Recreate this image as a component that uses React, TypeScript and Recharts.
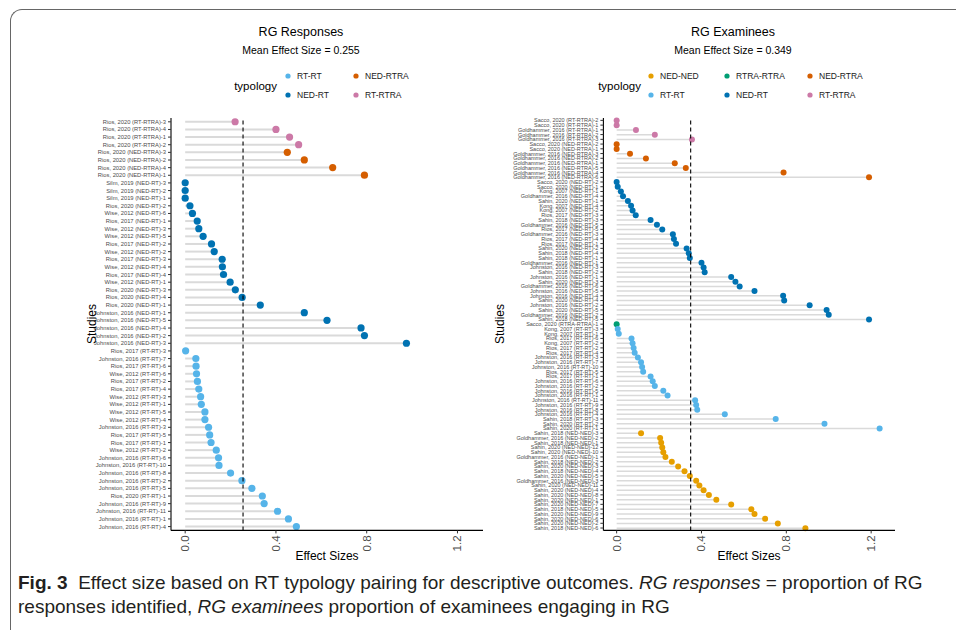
import React from 'react'
import { ComposedChart, Bar, XAxis, YAxis, ReferenceLine } from 'recharts'

const font = "'Liberation Sans', Arial, Helvetica, sans-serif"

const typologyColors: Record<string, string> = {
	'RT-RT': '#56B4E9',
	'NED-RT': '#0072B2',
	'NED-RTRA': '#D55E00',
	'RT-RTRA': '#CC79A7',
	'NED-NED': '#E69F00',
	'RTRA-RTRA': '#009E73',
}

const xTicks = [0, 0.4, 0.8, 1.2]
const xDomain = [-0.0625, 1.3125]

// RG Responses panel
const responseStudies = [
	'Rios, 2020 (RT-RTRA)-3', 'Rios, 2020 (RT-RTRA)-4', 'Rios, 2020 (RT-RTRA)-1', 'Rios, 2020 (RT-RTRA)-2',
	'Rios, 2020 (NED-RTRA)-3', 'Rios, 2020 (NED-RTRA)-2', 'Rios, 2020 (NED-RTRA)-4', 'Rios, 2020 (NED-RTRA)-1',
	'Silm, 2019 (NED-RT)-3', 'Silm, 2019 (NED-RT)-2', 'Silm, 2019 (NED-RT)-1', 'Rios, 2020 (NED-RT)-2',
	'Wise, 2012 (NED-RT)-6', 'Rios, 2017 (NED-RT)-1', 'Wise, 2012 (NED-RT)-3', 'Wise, 2012 (NED-RT)-5',
	'Rios, 2017 (NED-RT)-2', 'Wise, 2012 (NED-RT)-2', 'Rios, 2017 (NED-RT)-3', 'Wise, 2012 (NED-RT)-4',
	'Rios, 2017 (NED-RT)-4', 'Wise, 2012 (NED-RT)-1', 'Rios, 2020 (NED-RT)-3', 'Rios, 2020 (NED-RT)-4',
	'Rios, 2020 (NED-RT)-1', 'Johnston, 2016 (NED-RT)-1', 'Johnston, 2016 (NED-RT)-5', 'Johnston, 2016 (NED-RT)-4',
	'Johnston, 2016 (NED-RT)-2', 'Johnston, 2016 (NED-RT)-3',
	'Rios, 2017 (RT-RT)-3', 'Johnston, 2016 (RT-RT)-7', 'Rios, 2017 (RT-RT)-6', 'Wise, 2012 (RT-RT)-6',
	'Rios, 2017 (RT-RT)-2', 'Rios, 2017 (RT-RT)-4', 'Wise, 2012 (RT-RT)-3', 'Wise, 2012 (RT-RT)-1',
	'Wise, 2012 (RT-RT)-5', 'Wise, 2012 (RT-RT)-4', 'Johnston, 2016 (RT-RT)-3', 'Rios, 2017 (RT-RT)-5',
	'Rios, 2017 (RT-RT)-1', 'Wise, 2012 (RT-RT)-2', 'Johnston, 2016 (RT-RT)-6', 'Johnston, 2016 (RT-RT)-10',
	'Johnston, 2016 (RT-RT)-8', 'Johnston, 2016 (RT-RT)-2', 'Johnston, 2016 (RT-RT)-5', 'Rios, 2020 (RT-RT)-1',
	'Johnston, 2016 (RT-RT)-9', 'Johnston, 2016 (RT-RT)-11', 'Johnston, 2016 (RT-RT)-1', 'Johnston, 2016 (RT-RT)-4',
]
const responseEffects = [
	0.22, 0.4, 0.46, 0.5,
	0.45, 0.525, 0.65, 0.79,
	0, 0, 0, 0.021,
	0.032, 0.053, 0.06, 0.079,
	0.116, 0.128, 0.163, 0.164,
	0.169, 0.198, 0.221, 0.251,
	0.331, 0.525, 0.625, 0.775,
	0.79, 0.975,
	0.002, 0.047, 0.048, 0.05,
	0.054, 0.06, 0.068, 0.071,
	0.087, 0.087, 0.103, 0.108,
	0.114, 0.137, 0.147, 0.149,
	0.2, 0.25, 0.294, 0.34,
	0.348, 0.407, 0.455, 0.49,
]
const responseMean = 0.255

// RG Examinees panel
const examineeStudies = [
	'Sacco, 2020 (RT-RTRA)-2', 'Sacco, 2020 (RT-RTRA)-1', 'Goldhammer, 2016 (RT-RTRA)-1', 'Goldhammer, 2016 (RT-RTRA)-2',
	'Goldhammer, 2016 (RT-RTRA)-3',
	'Sacco, 2020 (NED-RTRA)-2', 'Sacco, 2020 (NED-RTRA)-1', 'Goldhammer, 2016 (NED-RTRA)-3', 'Goldhammer, 2016 (NED-RTRA)-2',
	'Goldhammer, 2016 (NED-RTRA)-1', 'Goldhammer, 2016 (NED-RTRA)-5', 'Goldhammer, 2016 (NED-RTRA)-4', 'Goldhammer, 2016 (NED-RTRA)-6',
	'Sacco, 2020 (NED-RT)-2', 'Sacco, 2020 (NED-RT)-1', 'Kong, 2007 (NED-RT)-1', 'Goldhammer, 2016 (NED-RT)-4',
	'Sahin, 2020 (NED-RT)-1', 'Kong, 2007 (NED-RT)-4', 'Kong, 2007 (NED-RT)-2', 'Rios, 2017 (NED-RT)-3',
	'Sahin, 2018 (NED-RT)-3', 'Goldhammer, 2016 (NED-RT)-5', 'Rios, 2017 (NED-RT)-5', 'Goldhammer, 2016 (NED-RT)-3',
	'Rios, 2017 (NED-RT)-4', 'Rios, 2017 (NED-RT)-1', 'Sahin, 2020 (NED-RT)-2', 'Sahin, 2018 (NED-RT)-4',
	'Sahin, 2018 (NED-RT)-1', 'Goldhammer, 2016 (NED-RT)-1', 'Johnston, 2016 (NED-RT)-3', 'Sahin, 2018 (NED-RT)-2',
	'Johnston, 2016 (NED-RT)-1', 'Sahin, 2020 (NED-RT)-3', 'Goldhammer, 2016 (NED-RT)-6', 'Johnston, 2016 (NED-RT)-5',
	'Johnston, 2016 (NED-RT)-4', 'Sahin, 2020 (NED-RT)-4', 'Johnston, 2016 (NED-RT)-2', 'Sahin, 2020 (NED-RT)-5',
	'Goldhammer, 2016 (NED-RT)-2', 'Sahin, 2018 (NED-RT)-5',
	'Sacco, 2020 (RTRA-RTRA)-1',
	'Kong, 2007 (RT-RT)-3', 'Kong, 2007 (RT-RT)-1', 'Rios, 2017 (RT-RT)-6', 'Kong, 2007 (RT-RT)-2',
	'Rios, 2017 (RT-RT)-2', 'Rios, 2017 (RT-RT)-4', 'Johnston, 2016 (RT-RT)-3', 'Johnston, 2016 (RT-RT)-7',
	'Johnston, 2016 (RT-RT)-10', 'Rios, 2017 (RT-RT)-5', 'Rios, 2017 (RT-RT)-1', 'Johnston, 2016 (RT-RT)-6',
	'Johnston, 2016 (RT-RT)-2', 'Johnston, 2016 (RT-RT)-5', 'Johnston, 2016 (RT-RT)-1', 'Johnston, 2016 (RT-RT)-11',
	'Johnston, 2016 (RT-RT)-9', 'Johnston, 2016 (RT-RT)-8', 'Johnston, 2016 (RT-RT)-4', 'Sahin, 2018 (RT-RT)-3',
	'Sahin, 2020 (RT-RT)-2', 'Sahin, 2020 (RT-RT)-1',
	'Sahin, 2018 (NED-NED)-3', 'Goldhammer, 2016 (NED-NED)-2', 'Sahin, 2018 (NED-NED)-1', 'Sahin, 2020 (NED-NED)-12',
	'Sahin, 2020 (NED-NED)-10', 'Goldhammer, 2016 (NED-NED)-1', 'Sahin, 2018 (NED-NED)-2', 'Sahin, 2020 (NED-NED)-3',
	'Sahin, 2018 (NED-NED)-4', 'Sahin, 2020 (NED-NED)-5', 'Goldhammer, 2016 (NED-NED)-3', 'Sahin, 2020 (NED-NED)-11',
	'Sahin, 2020 (NED-NED)-4', 'Sahin, 2020 (NED-NED)-8', 'Sahin, 2020 (NED-NED)-1', 'Sahin, 2020 (NED-NED)-7',
	'Sahin, 2018 (NED-NED)-5', 'Sahin, 2020 (NED-NED)-9', 'Sahin, 2020 (NED-NED)-6', 'Sahin, 2020 (NED-NED)-2',
	'Sahin, 2018 (NED-NED)-6',
]
const examineeEffects = [
	0, 0, 0.091, 0.18,
	0.355,
	0, 0, 0.063, 0.138,
	0.274, 0.326, 0.787, 1.19,
	0, 0.005, 0.02, 0.03,
	0.053, 0.068, 0.075, 0.09,
	0.16, 0.19, 0.215, 0.265,
	0.27, 0.28, 0.33, 0.34,
	0.345, 0.4, 0.41, 0.415,
	0.54, 0.56, 0.58, 0.65,
	0.785, 0.79, 0.91, 0.99,
	1.0, 1.19,
	0,
	0.005, 0.01, 0.07, 0.075,
	0.08, 0.085, 0.1, 0.115,
	0.12, 0.125, 0.16, 0.17,
	0.18, 0.22, 0.24, 0.37,
	0.375, 0.38, 0.51, 0.75,
	0.98, 1.24,
	0.115, 0.205, 0.21, 0.215,
	0.22, 0.23, 0.26, 0.29,
	0.32, 0.345, 0.375, 0.39,
	0.41, 0.435, 0.47, 0.54,
	0.635, 0.65, 0.7, 0.76,
	0.89,
]
const examineeMean = 0.349

const responseLegend = [['RT-RT', 'NED-RTRA'], ['NED-RT', 'RT-RTRA']]
const examineeLegend = [['NED-NED', 'RTRA-RTRA', 'NED-RTRA'], ['RT-RT', 'NED-RT', 'RT-RTRA']]

const typologyOf = (study: string) => study.slice(study.indexOf('(') + 1, study.indexOf(')'))

const buildRows = (studies: string[], effects: number[]) =>
	studies.map((study, i) => ({ study, effect: effects[i], typology: typologyOf(study) }))

const CHART_H = 575

const EffectTick = (props: any) => {
	const { x, y, payload } = props
	return (
		<text
			x={x}
			y={y}
			transform={`rotate(-90 ${x} ${y})`}
			textAnchor='end'
			dominantBaseline='central'
			fontSize={11.5}
			fontFamily={font}
			fill='#4d4d4d'
		>
			{Number(payload.value).toFixed(1)}
		</text>
	)
}

const StudyTick = (props: any) => {
	const { x, y, payload, size } = props
	return (
		<text x={x} y={y} textAnchor='end' dominantBaseline='central' fontSize={size} fontFamily={font} fill='#4d4d4d'>
			{payload.value}
		</text>
	)
}

const lollipop = (r: number, lw: number) => (props: any) => {
	const { x, y, width, height } = props
	const typology = props.typology ?? props.payload?.typology
	const cy = y + height / 2
	const end = x + width
	return (
		<g>
			<line x1={x} y1={cy} x2={end} y2={cy} stroke='#dadada' strokeWidth={lw} />
			<circle cx={end} cy={cy} r={r} fill={typologyColors[typology]} />
		</g>
	)
}

interface PanelProps {
	left: number
	width: number
	yAxisWidth: number
	rightMargin: number
	rows: { study: string; effect: number; typology: string }[]
	mean: number
	labelSize: number
	dotR: number
	lineW: number
}

const Panel: React.FC<PanelProps> = ({ left, width, yAxisWidth, rightMargin, rows, mean, labelSize, dotR, lineW }) => (
	<div style={{ position: 'absolute', left, top: 0 }}>
		<ComposedChart
			width={width}
			height={CHART_H}
			data={rows}
			layout='vertical'
			margin={{ top: 118, right: rightMargin, bottom: 14.6, left: 0 }}
		>
			<XAxis
				type='number'
				domain={xDomain}
				ticks={xTicks}
				allowDataOverflow
				height={30}
				axisLine={{ stroke: '#000', strokeWidth: 1.1 }}
				tickLine={{ stroke: '#333' }}
				tickSize={3}
				tickMargin={2}
				tick={<EffectTick />}
			/>
			<YAxis
				type='category'
				dataKey='study'
				width={yAxisWidth}
				interval={0}
				tickSize={3}
				tickMargin={2}
				axisLine={{ stroke: '#000', strokeWidth: 1.1 }}
				tickLine={{ stroke: '#333' }}
				tick={(p: any) => <StudyTick {...p} size={labelSize} />}
			/>
			<Bar dataKey='effect' isAnimationActive={false} shape={lollipop(dotR, lineW)} />
			<ReferenceLine x={mean} stroke='#000' strokeWidth={1.1} strokeDasharray='4 3' />
		</ComposedChart>
	</div>
)

const LegendBlock = ({ x, dotXs, items }: { x: number; dotXs: number[]; items: string[][] }) => (
	<svg style={{ position: 'absolute', left: 0, top: 0 }} width={956} height={110}>
		<text x={x} y={86} textAnchor='end' dominantBaseline='central' fontSize={11.5} fontFamily={font} fill='#000'>
			typology
		</text>
		{items.map((row, ri) =>
			row.map((label, ci) => (
				<g key={label}>
					<circle cx={dotXs[ci]} cy={ri === 0 ? 76 : 95} r={2.6} fill={typologyColors[label]} />
					<text
						x={dotXs[ci] + 9}
						y={ri === 0 ? 76 : 95}
						dominantBaseline='central'
						fontSize={8.5}
						fontFamily={font}
						fill='#1a1a1a'
					>
						{label}
					</text>
				</g>
			))
		)}
	</svg>
)

const centered = (x: number, y: number, size: number): React.CSSProperties => ({
	position: 'absolute',
	left: x - 200,
	width: 400,
	top: y - size * 0.6,
	textAlign: 'center',
	fontSize: size,
	fontFamily: font,
	color: '#000',
	lineHeight: `${size * 1.2}px`,
	whiteSpace: 'nowrap',
})

const rotated = (x: number, y: number): React.CSSProperties => ({
	position: 'absolute',
	left: x - 50,
	top: y - 8,
	width: 100,
	height: 16,
	textAlign: 'center',
	fontSize: 12,
	lineHeight: '16px',
	fontFamily: font,
	transform: 'rotate(-90deg)',
})

export default function App() {
	const responseRows = buildRows(responseStudies, responseEffects)
	const examineeRows = buildRows(examineeStudies, examineeEffects)
	return (
		<div style={{ position: 'absolute', left: 0, top: 0, width: 956, height: 630, background: '#fff', overflow: 'hidden' }}>
			{/* figure frame */}
			<div
				style={{
					position: 'absolute',
					left: 10,
					top: 9,
					width: 980,
					height: 660,
					borderTop: '1.5px solid #666',
					borderLeft: '1.5px solid #666',
					borderTopLeftRadius: 12,
				}}
			/>

			<div style={centered(301, 32, 12.5)}>RG Responses</div>
			<div style={centered(301, 50, 10.5)}>Mean Effect Size = {responseMean}</div>
			<div style={centered(733, 32, 12.5)}>RG Examinees</div>
			<div style={centered(733, 50, 10.5)}>Mean Effect Size = {examineeMean}</div>

			<LegendBlock x={277} dotXs={[288, 356]} items={responseLegend} />
			<LegendBlock x={641} dotXs={[651, 727, 810]} items={examineeLegend} />

			<Panel
				left={0}
				width={490}
				yAxisWidth={171}
				rightMargin={7}
				rows={responseRows}
				mean={responseMean}
				labelSize={5.8}
				dotR={3.6}
				lineW={2}
			/>
			<Panel
				left={490}
				width={466}
				yAxisWidth={113.4}
				rightMargin={61}
				rows={examineeRows}
				mean={examineeMean}
				labelSize={5.5}
				dotR={3}
				lineW={1.5}
			/>

			<div style={rotated(92, 324)}>Studies</div>
			<div style={rotated(500, 324)}>Studies</div>
			<div style={centered(327, 556, 12)}>Effect Sizes</div>
			<div style={centered(749, 556, 12)}>Effect Sizes</div>

			{/* caption */}
			<div
				style={{
					position: 'absolute',
					left: 18,
					top: 571,
					width: 940,
					fontSize: 19,
					lineHeight: '24px',
					fontFamily: font,
					color: '#231f20',
					whiteSpace: 'nowrap',
				}}
			>
				<b>Fig. 3</b>&nbsp; Effect size based on RT typology pairing for descriptive outcomes. <i>RG responses</i> = proportion of RG
				<br />
				responses identified, <i>RG examinees</i> proportion of examinees engaging in RG
			</div>
		</div>
	)
}
